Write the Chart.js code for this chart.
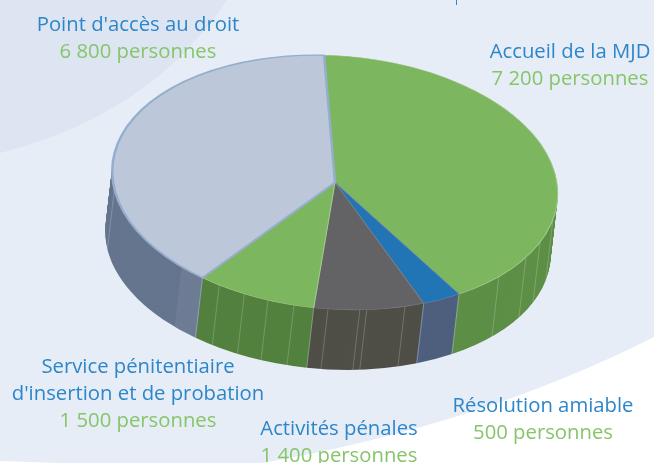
<!DOCTYPE html>
<html lang="fr">
<head>
<meta charset="utf-8">
<title>Répartition des personnes</title>
<style>
    html, body { margin: 0; padding: 0; background: #fff; }
    canvas { display: block; }
</style>
<script src="https://cdn.jsdelivr.net/npm/chart.js@4/dist/chart.umd.min.js"></script>
</head>
<body>
<canvas id="pie3d" width="654" height="463"></canvas>
<script>
var categories = [
    ['Accueil de la MJD'],
    ['Résolution amiable'],
    ['Activités pénales'],
    ['Service pénitentiaire', "d'insertion et de probation"],
    ["Point d'accès au droit"]
];
var valueTexts = ['7 200 personnes', '500 personnes', '1 400 personnes', '1 500 personnes', '6 800 personnes'];
var values = [7200, 500, 1400, 1500, 6800];

var topColors = ['#7cb65e', '#2175b5', '#636366', '#7cb65e', '#bcc7d9'];
var edgeColors = ['#a5cc90', '#6a84a8', '#7d8088', '#a5cc90', '#96aecd'];
var edgeWidths = [1, 1, 1, 1, 2.5];
var wallColors = ['#5d8f47', '#4f5f7e', '#4f4f47', '#53813f', '#65758e'];
var labelAnchors = [[570, 58], [543, 412], [339, 435], [138, 373], [138, 31]];

// vertical ribs on the side wall, degrees clockwise from the top of the pie
var ribAngles = [102, 113, 121, 132.6, 161.7, 171.8, 173.6, 181.8, 190.6, 197.5, 204, 211.3, 262];

var squash = 127 / 223;
var tilt = 0.05;
var centerY = 182.5;
var wallX = -7;
var wallY = 60;

// maps the round pie onto the tilted ellipse, origin at the pie centre
function applyPlane(ctx, cx) {
    ctx.translate(cx, centerY);
    ctx.transform(1, tilt, 0, squash, 0, 0);
}

function rimPoint(el, angle) {
    var dx = el.outerRadius * Math.cos(angle);
    return {
        x: el.x + dx,
        y: centerY + el.outerRadius * squash * Math.sin(angle) + tilt * dx
    };
}

var backdrop = {
    id: 'backdrop',
    beforeDraw: function(chart) {
        var ctx = chart.ctx;
        ctx.save();
        ctx.fillStyle = '#e6edf7';
        ctx.fillRect(0, 0, 654, 463);

        ctx.fillStyle = '#dde4f2';
        ctx.beginPath();
        ctx.moveTo(0, 0);
        ctx.lineTo(227, 0);
        ctx.quadraticCurveTo(150, 115, 0, 153);
        ctx.closePath();
        ctx.fill();

        ctx.fillStyle = '#ffffff';
        ctx.beginPath();
        ctx.moveTo(654, 337);
        ctx.quadraticCurveTo(480, 425, 262, 463);
        ctx.lineTo(654, 463);
        ctx.closePath();
        ctx.fill();

        ctx.beginPath();
        ctx.moveTo(0, 461);
        ctx.quadraticCurveTo(30, 462, 60, 463);
        ctx.lineTo(0, 463);
        ctx.closePath();
        ctx.fill();

        ctx.strokeStyle = '#2c86c9';
        ctx.lineWidth = 1;
        ctx.beginPath();
        ctx.moveTo(456.5, 0);
        ctx.lineTo(456.5, 5);
        ctx.stroke();
        ctx.restore();
    }
};

function drawRibLine(ctx, el, angle) {
    var p = rimPoint(el, angle);
    ctx.beginPath();
    ctx.moveTo(p.x, p.y);
    ctx.lineTo(p.x + wallX, p.y + wallY);
    ctx.stroke();
}

// draws the side wall, then squashes the context so the library's arcs land on the ellipse
var extrude = {
    id: 'extrude',
    beforeDatasetsDraw: function(chart) {
        var ctx = chart.ctx;
        var arcs = chart.getDatasetMeta(0).data;
        var el = arcs[0];
        var r = el.outerRadius;
        var i, k;

        for (k = wallY; k >= 0; k--) {
            ctx.save();
            ctx.translate(wallX * k / wallY, k);
            applyPlane(ctx, el.x);
            for (i = 0; i < arcs.length; i++) {
                ctx.fillStyle = wallColors[i];
                ctx.beginPath();
                ctx.moveTo(0, 0);
                ctx.arc(0, 0, r, arcs[i].startAngle, arcs[i].endAngle);
                ctx.closePath();
                ctx.fill();
            }
            ctx.restore();
        }

        ctx.save();
        // slightly lighter band next to the edge of the pale slice
        var a0 = arcs[4].startAngle;
        var bandEnd = a0 + 7 * Math.PI / 180;
        var p0 = rimPoint(el, a0);
        var p1 = rimPoint(el, (a0 + bandEnd) / 2);
        var p2 = rimPoint(el, bandEnd);
        ctx.fillStyle = 'rgba(255,255,255,0.06)';
        ctx.beginPath();
        ctx.moveTo(p0.x, p0.y);
        ctx.lineTo(p1.x, p1.y);
        ctx.lineTo(p2.x, p2.y);
        ctx.lineTo(p2.x + wallX, p2.y + wallY);
        ctx.lineTo(p1.x + wallX, p1.y + wallY);
        ctx.lineTo(p0.x + wallX, p0.y + wallY);
        ctx.closePath();
        ctx.fill();

        ctx.lineWidth = 1;
        ctx.strokeStyle = 'rgba(255,255,255,0.2)';
        ribAngles.forEach(function(deg) {
            drawRibLine(ctx, el, (deg - 90) * Math.PI / 180);
        });

        ctx.strokeStyle = 'rgba(190,205,225,0.45)';
        for (i = 0; i < arcs.length; i++) {
            if (Math.sin(arcs[i].startAngle) > 0) {
                drawRibLine(ctx, el, arcs[i].startAngle);
            }
        }
        ctx.restore();

        ctx.save();
        applyPlane(ctx, el.x);
        ctx.translate(-el.x, -el.y);
    },
    afterDatasetsDraw: function(chart) {
        chart.ctx.restore();
    }
};

var calloutLabels = {
    id: 'calloutLabels',
    afterDraw: function(chart) {
        var ctx = chart.ctx;
        ctx.save();
        ctx.textAlign = 'center';
        ctx.textBaseline = 'alphabetic';
        ctx.font = '20.3px "Open Sans"';
        categories.forEach(function(lines, i) {
            var x = labelAnchors[i][0];
            var y = labelAnchors[i][1];
            ctx.fillStyle = '#2c86c9';
            lines.forEach(function(line) {
                ctx.fillText(line, x, y);
                y += 27;
            });
            ctx.fillStyle = '#86c56a';
            ctx.fillText(valueTexts[i], x, y);
        });
        ctx.restore();
    }
};

new Chart(document.getElementById('pie3d').getContext('2d'), {
    type: 'pie',
    data: {
        labels: categories.map(function(c) { return c.join(' '); }),
        datasets: [{
            data: values,
            backgroundColor: topColors,
            borderColor: edgeColors,
            borderWidth: edgeWidths,
            clip: false
        }]
    },
    options: {
        responsive: false,
        animation: false,
        rotation: -2.8,
        layout: { padding: { left: 111, right: 95, top: 0, bottom: 15 } },
        plugins: {
            legend: { display: false },
            tooltip: { enabled: false }
        }
    },
    plugins: [backdrop, extrude, calloutLabels]
});
</script>
</body>
</html>
